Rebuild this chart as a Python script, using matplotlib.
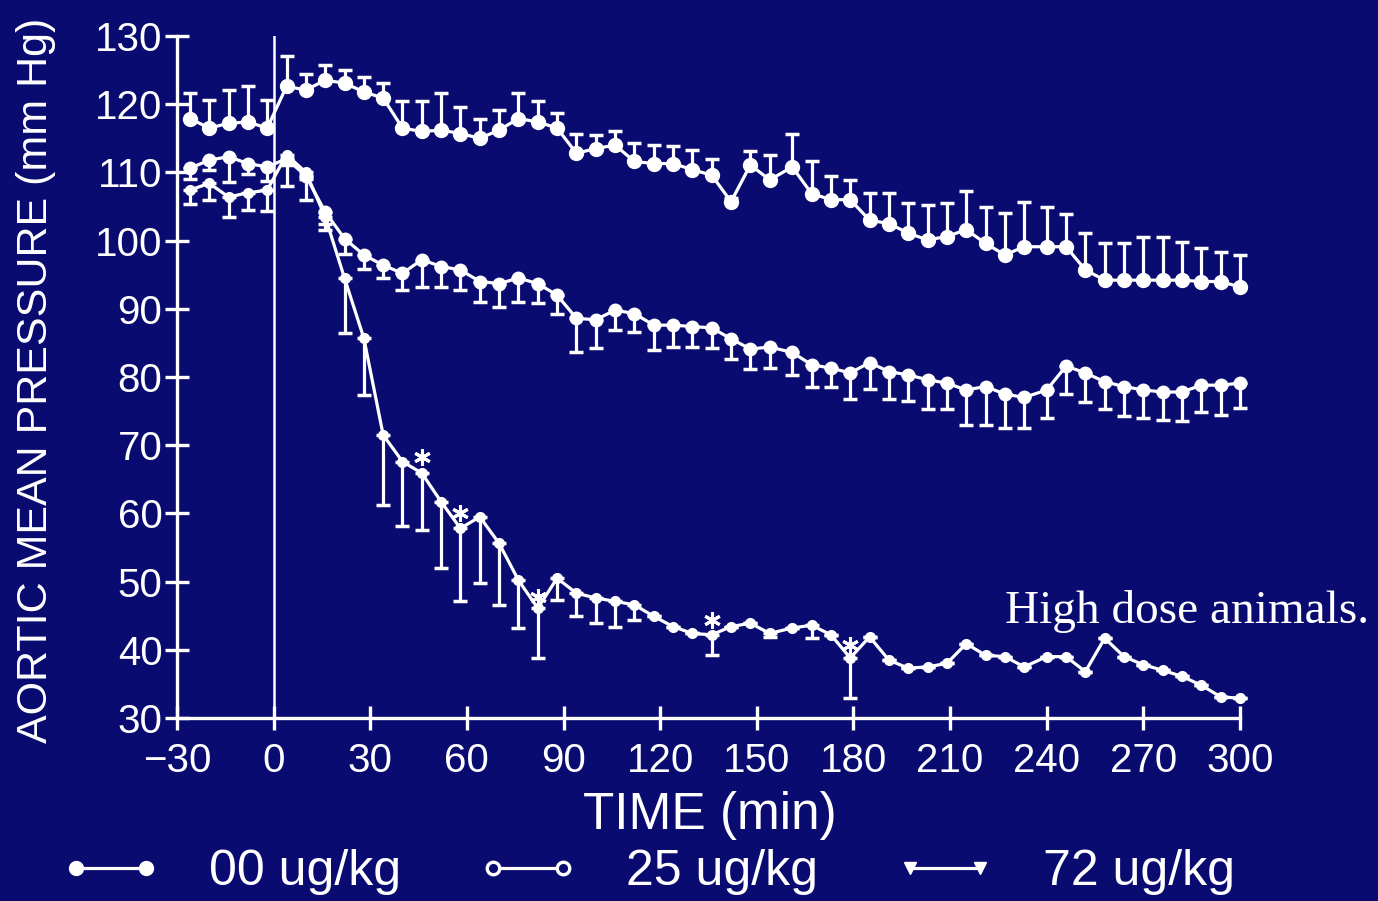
import matplotlib.pyplot as plt
from matplotlib.lines import Line2D

# sampling times (min), 5 baseline readings then every ~6 min after dosing
time_min = [-26, -20, -14, -8, -2,
            4, 10, 16, 22, 28, 34, 40, 46, 52, 58, 64, 70, 76, 82, 88, 94, 100,
            106, 112, 118, 124, 130, 136, 142, 148, 154, 161, 167, 173, 179, 185,
            191, 197, 203, 209, 215, 221, 227, 233, 240, 246, 252, 258, 264, 270,
            276, 282, 288, 294, 300]

# 00 ug/kg : mean and upper error
dose00 = [117.9, 116.5, 117.2, 117.4, 116.5,
          122.6, 122.1, 123.5, 123.1, 121.8, 120.9, 116.5, 116.0, 116.2, 115.7,
          115.0, 116.2, 117.9, 117.4, 116.5, 112.8, 113.5, 114.0, 111.6, 111.3,
          111.3, 110.4, 109.6, 105.7, 111.1, 108.9, 110.8, 106.9, 106.0, 106.0,
          103.0, 102.5, 101.1, 100.1, 100.6, 101.6, 99.6, 97.9, 99.1, 99.1,
          99.1, 95.7, 94.2, 94.2, 94.2, 94.2, 94.2, 94.0, 94.0, 93.2]
err00 = [3.7, 4.1, 4.9, 5.2, 4.1,
         4.4, 2.4, 2.2, 1.9, 2.2, 2.2, 3.9, 4.4, 5.4, 3.9,
         2.9, 2.9, 3.7, 3.0, 2.2, 2.9, 2.0, 2.0, 2.7, 2.7,
         2.5, 2.9, 2.3, 0.5, 2.0, 3.7, 4.9, 4.7, 3.4, 2.9,
         4.0, 4.5, 4.4, 5.1, 4.9, 5.6, 5.4, 6.1, 6.6, 5.8,
         4.8, 5.4, 5.4, 5.4, 6.4, 6.4, 5.6, 4.9, 4.4, 4.7]

# 25 ug/kg : mean and lower error
dose25 = [110.6, 111.8, 112.3, 111.3, 110.8,
          112.0, 109.5, 104.2, 100.3, 97.9, 96.4, 95.2, 97.2, 96.2, 95.7,
          94.0, 93.7, 94.5, 93.7, 92.0, 88.6, 88.4, 89.8, 89.3, 87.6,
          87.6, 87.4, 87.2, 85.6, 84.1, 84.4, 83.6, 81.8, 81.3, 80.6,
          82.1, 80.8, 80.3, 79.6, 79.1, 78.1, 78.6, 77.5, 77.0, 78.1,
          81.6, 80.6, 79.3, 78.6, 78.1, 77.8, 77.8, 78.8, 78.8, 79.1]
err25 = [1.5, 1.5, 3.7, 1.5, 2.0,
         4.0, 3.5, 2.6, 2.2, 2.0, 1.9, 2.4, 4.0, 3.0, 2.9,
         3.0, 3.4, 3.5, 2.9, 2.7, 4.9, 4.2, 2.9, 2.7, 3.6,
         3.2, 3.0, 3.0, 3.0, 3.0, 3.1, 3.3, 3.2, 2.7, 3.8,
         3.8, 4.0, 3.8, 4.3, 3.8, 5.1, 5.6, 5.0, 4.5, 4.1,
         4.1, 4.3, 4.0, 4.3, 4.1, 4.1, 4.3, 4.0, 4.3, 3.6]

# 72 ug/kg : mean and lower error
dose72 = [107.4, 108.4, 106.4, 107.0, 107.4,
          112.6, 110.0, 103.5, 94.5, 85.7, 71.5, 67.6, 65.9, 61.7, 57.8,
          59.5, 55.6, 50.2, 46.1, 50.5, 48.3, 47.6, 47.1, 46.6, 44.9,
          43.4, 42.4, 42.2, 43.4, 43.9, 42.4, 43.2, 43.6, 42.2, 38.8,
          41.9, 38.5, 37.3, 37.5, 38.0, 40.9, 39.2, 39.0, 37.5, 39.0,
          39.0, 36.8, 41.7, 39.0, 37.8, 37.0, 36.1, 34.8, 33.1, 32.9]
err72 = [2.0, 2.5, 3.0, 2.5, 3.0,
         1.5, 1.0, 1.0, 8.0, 8.3, 10.3, 9.5, 8.3, 9.7, 10.7,
         9.7, 9.0, 7.0, 7.3, 3.2, 3.4, 3.7, 3.7, 2.2, 0.0,
         0.0, 0.0, 3.0, 0.0, 0.0, 0.5, 0.0, 1.9, 0.0, 5.9,
         0.0, 0.0, 0.0, 0.0, 0.0, 0.0, 0.0, 0.0, 0.0, 0.0,
         0.0, 0.0, 0.0, 0.0, 0.0, 0.0, 0.0, 0.0, 0.0, 0.0]

# significance stars on the high dose curve
star_time = [46, 58, 82, 136, 179]
star_value = [68.3, 60.0, 47.8, 44.4, 40.7]

bg = '#090b70'
fg = 'white'
plt.rcParams['font.family'] = ['Liberation Sans', 'DejaVu Sans']

fig = plt.figure(figsize=(13.78, 9.01), dpi=100, facecolor=bg)
ax = fig.add_axes([177 / 1378, 1 - 718 / 901, (1240 - 177) / 1378, (718 - 36) / 901])
ax.set_facecolor(bg)

zeros = [0] * len(time_min)
style = dict(color=fg, lw=2.3, elinewidth=2.3, capsize=4.8, capthick=2.5, clip_on=False, zorder=3)
ax.errorbar(time_min, dose00, yerr=[zeros, err00], marker='o', ms=10, **style)
ax.errorbar(time_min, dose25, yerr=[err25, zeros], marker='o', ms=9, **style)
ax.errorbar(time_min, dose72, yerr=[err72, zeros], marker='o', ms=7, **style)
ax.plot(star_time, star_value, ls='none', marker=(6, 2, 0), ms=12, mew=2.2, color=fg, zorder=4)

# dosing line at t = 0
ax.axvline(0, color=fg, lw=1.8, zorder=2)

ax.set_xlim(-30, 300)
ax.set_ylim(30, 130)
ax.set_xticks(range(-30, 301, 30))
ax.set_yticks(range(30, 131, 10))
for s in ['top', 'right']:
    ax.spines[s].set_visible(False)
for s in ['left', 'bottom']:
    ax.spines[s].set_color(fg)
    ax.spines[s].set_linewidth(2.4)
ax.tick_params(colors=fg, direction='inout', length=17, width=2.4, labelsize=29)
ax.tick_params(axis='x', pad=9)
ax.tick_params(axis='y', pad=2)

fig.text(36 / 1378, 1 - 380 / 901, 'AORTIC MEAN PRESSURE (mm Hg)', rotation=90,
         ha='center', va='center', color=fg, fontsize=31)
fig.text(710 / 1378, 1 - 816 / 901, 'TIME (min)', ha='center', va='center', color=fg, fontsize=37)
fig.text(1005 / 1378, 1 - 623 / 901, 'High dose animals.', ha='left', va='baseline',
         color=fg, fontsize=34, family='Liberation Serif')

# legend row under the axis
handles = [
    Line2D([], [], color=fg, lw=2.3, marker='o', ms=10),
    Line2D([], [], color=fg, lw=2.3, marker='o', ms=9, mfc=bg, mew=2.4),
    Line2D([], [], color=fg, lw=2.3, marker='v', ms=9),
]
labels = ['00 ug/kg', '25 ug/kg', '72 ug/kg']
leg = fig.legend(handles, labels, loc='center', bbox_to_anchor=(648 / 1378, 1 - 872 / 901),
                 ncol=3, frameon=False, fontsize=36, numpoints=2, handlelength=2.0,
                 handletextpad=0.95, columnspacing=1.55)
for txt in leg.get_texts():
    txt.set_color(fg)

plt.savefig('out.png', dpi=100, facecolor=bg)
